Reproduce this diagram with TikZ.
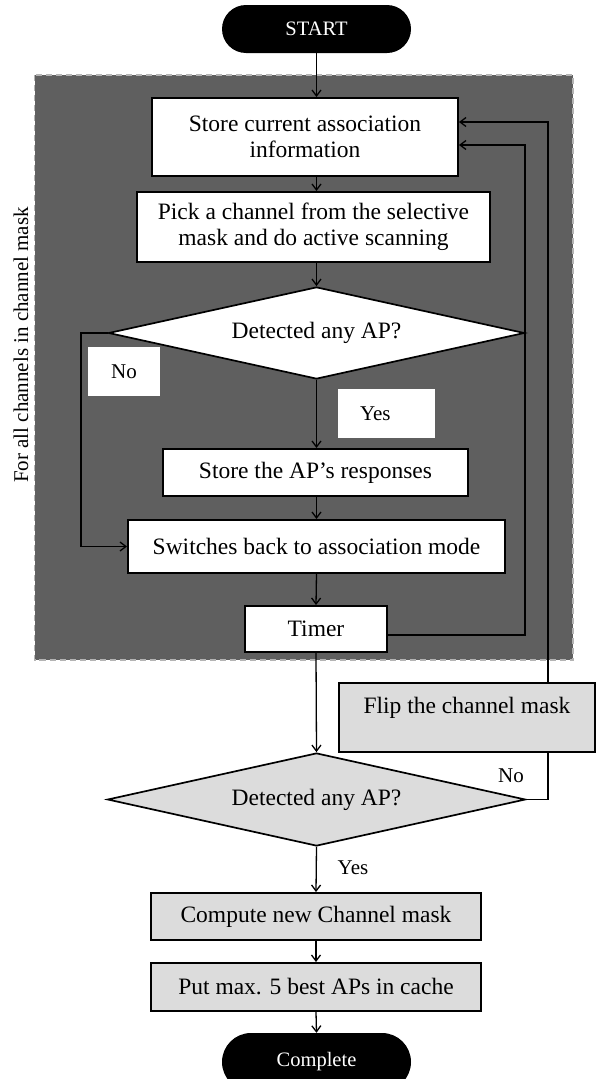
\documentclass[tikz,border=0pt]{standalone}
\usepackage{fontspec}
\setmainfont{Liberation Serif}
\usetikzlibrary{shapes.geometric,shapes.misc,arrows.meta}
\definecolor{regiongray}{HTML}{5F5F5F}
\definecolor{dashgray}{HTML}{B4B4B4}
\definecolor{boxgray}{HTML}{DCDCDC}
\newcommand{\boxfont}{\fontsize{23.5}{26}\selectfont}
\newcommand{\lblfont}{\fontsize{21}{24}\selectfont}
\begin{document}
\begin{tikzpicture}[x=1pt,y=-1pt,
  wbox/.style={draw=black, line width=1.9pt, fill=white, font=\boxfont, align=center, inner sep=0pt},
  gbox/.style={wbox, fill=boxgray},
  term/.style={rounded rectangle, fill=black, text=white, font=\fontsize{20.5}{24}\selectfont, minimum width=189pt, inner sep=0pt},
  dec/.style={diamond, draw=black, line width=1.7pt, font=\boxfont, inner sep=0pt, aspect=4.5},
  lbl/.style={fill=white, font=\lblfont, inner sep=0pt},
  conn/.style={line width=1.3pt, -{Straight Barb[length=6pt,width=9pt]}},
  plain/.style={line width=1.3pt}]
\path[use as bounding box, clip] (0,0) rectangle (600,1079);
\fill[regiongray] (34.5,75) rectangle (573,660);
\draw[dashgray, dash pattern=on 6pt off 4pt, line width=1.6pt] (34.5,75) rectangle (573,660);
\node[rotate=90, font=\lblfont] (loop) at (21,345) {For all channels in channel mask};

\node[term, minimum height=48pt] (start) at (316.5,29) {START};
\node[wbox, minimum width=306pt, minimum height=78pt] (box1) at (305,137) {Store current association\\information};
\node[wbox, minimum width=353pt, minimum height=70pt] (box2) at (313.5,227) {Pick a channel from the selective\\mask and do active scanning};
\node[dec, fill=white, minimum width=416pt, minimum height=92pt] (d1) at (316.5,333) {Detected any AP?};
\node[wbox, minimum width=305pt, minimum height=47pt] (storeap) at (315.5,472.5) {Store the AP’s responses};
\node[wbox, minimum width=377pt, minimum height=53pt] (switch) at (316.5,546.5) {Switches back to association mode};
\node[wbox, minimum width=142pt, minimum height=46pt] (timer) at (316,629) {Timer};
\node[gbox, minimum width=256pt, minimum height=69pt, text height=14pt, text depth=23pt] (flip) at (467,717.5) {Flip the channel mask};
\node[dec, fill=boxgray, minimum width=418pt, minimum height=93pt] (d2) at (316.5,799.5) {Detected any AP?};
\node[gbox, minimum width=330pt, minimum height=47pt] (compute) at (316,916.5) {Compute new Channel mask};
\node[gbox, minimum width=330pt, minimum height=48pt] (put) at (316,987) {Put max. 5 best APs in cache};
\node[term, minimum height=58pt] (complete) at (316.5,1062) {Complete};

\node[lbl, minimum width=72pt, minimum height=49pt] (no1) at (124,371.5) {No};
\node[lbl, text width=97pt, align=left, minimum height=49pt] (yes1) at (386.5,413.5) {\hspace*{22pt}Yes};
\node[font=\lblfont, inner sep=0pt] (no2) at (511,776) {No};
\node[font=\lblfont, inner sep=0pt] (yes2) at (353,868) {Yes};

\coordinate (lx) at (81,0);
\coordinate (rx1) at (525,0);
\coordinate (rx2) at (548,0);
\coordinate (b1a) at ([yshift=15pt]box1.east);
\coordinate (b1b) at ([yshift=-8pt]box1.east);
\coordinate (tme) at ([yshift=-6pt]timer.east);

\draw[conn] (start.south) -- (start.south |- box1.north);
\draw[conn] (start.south |- box1.south) -- (start.south |- box2.north);
\draw[conn] (start.south |- box2.south) -- (d1.north);
\draw[conn] (d1.south) -- (d1.south |- storeap.north);
\draw[conn] (d1.south |- storeap.south) -- (switch.north);
\draw[conn] (switch.south) -- (timer.north);
\draw[conn] (timer.south) -- (d2.north);
\draw[conn] (d2.south) -- (compute.north);
\draw[conn] (compute.south) -- (put.north);
\draw[conn] (put.south) -- (complete.north);
\draw[conn] (d1.west) -- (d1.west -| lx) -- (switch.west -| lx) -- (switch.west);
\draw[conn] (tme) -- (tme -| rx1) -- (b1b -| rx1) -- (b1b);
\draw[plain] (d2.east) -- (d2.east -| rx2) -- (rx2 |- flip.south);
\draw[conn] (rx2 |- flip.north) -- (b1a -| rx2) -- (b1a);
\end{tikzpicture}
\end{document}
